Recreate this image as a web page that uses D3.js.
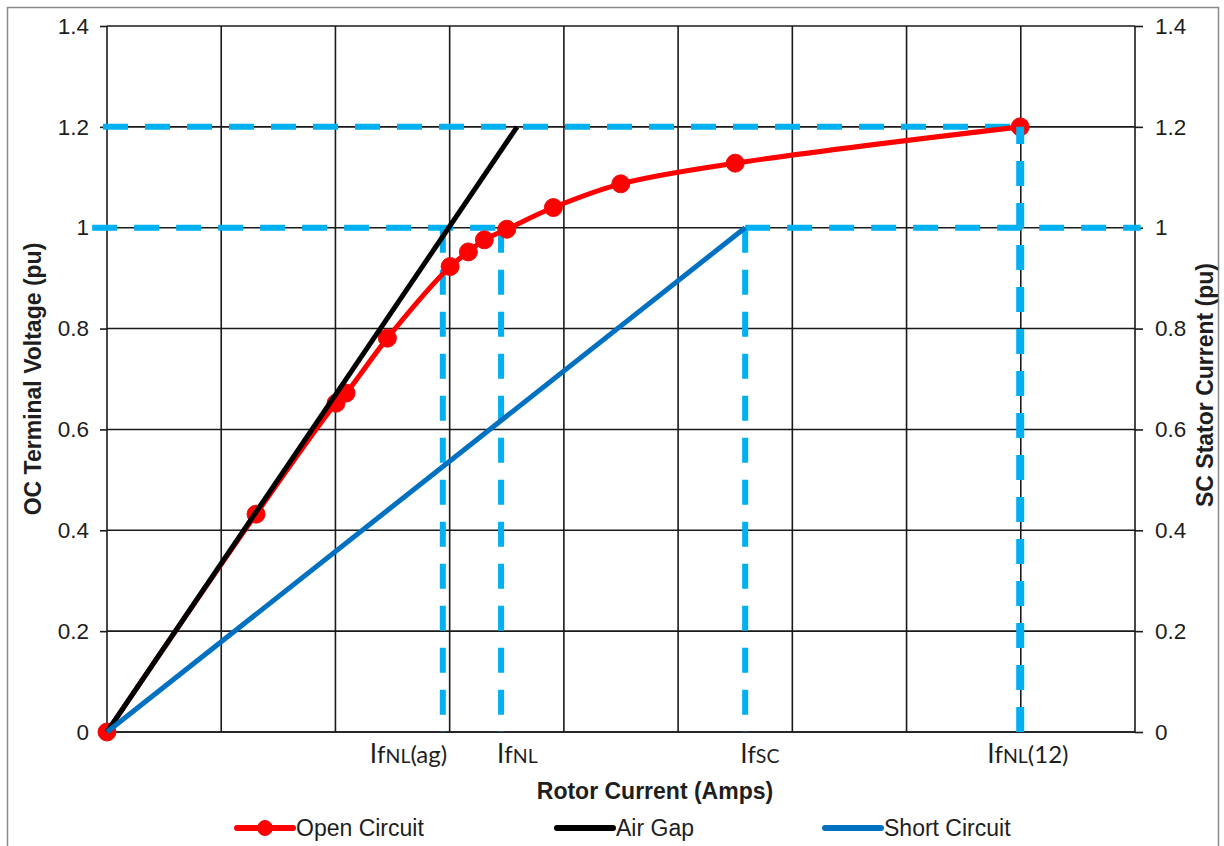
<!DOCTYPE html>
<html><head><meta charset="utf-8">
<script src="https://cdn.jsdelivr.net/npm/d3@7"></script>
<style>
  body { margin: 0; background: #fff; }
  svg { display: block; }
  text { fill: #1e1e1e; }
</style>
</head><body>
<svg id="chart" width="1224" height="846"></svg>
<script>
// Open-circuit characteristic: rotor current (grid units) vs terminal voltage (pu)
const ocCurrent = [0, 1.305, 2.005, 2.093, 2.455, 3.004, 3.164, 3.304, 3.50, 3.908, 4.498, 5.50, 7.995];
const ocVoltage = [0, 0.432, 0.652, 0.672, 0.781, 0.923, 0.952, 0.976, 0.997, 1.040, 1.087, 1.128, 1.2];

// Air-gap line
const agCurrent = [0, 3.59];
const agVoltage = [0, 1.2];

// Short-circuit characteristic: rotor current vs stator current (pu)
const scCurrent = [0, 5.587];
const scStator = [0, 1.0];

// Field-current reference points
const refNames = ["IfNL(ag)", "IfNL", "IfSC", "IfNL(12)"];
const refCurrent = [2.94, 3.45, 5.587, 7.995];
const refLevel = [1.0, 1.0, 1.0, 1.2];

const yTicks = [0, 0.2, 0.4, 0.6, 0.8, 1, 1.2, 1.4];
const xGridLines = [0, 1, 2, 3, 4, 5, 6, 7, 8, 9];

const legendNames = ["Open Circuit", "Air Gap", "Short Circuit"];

const svg = d3.select("#chart");
const plot = { left: 107, right: 1135, top: 26, bottom: 732 };

const x = d3.scaleLinear().domain([0, 9]).range([plot.left, plot.right]);
const y = d3.scaleLinear().domain([0, 1.4]).range([plot.bottom, plot.top]);
const y2 = d3.scaleLinear().domain([0, 1.4]).range([plot.bottom, plot.top]);

const RED = "#ff0000", BLACK = "#000000", BLUE = "#0070c0", CYAN = "#00b0f0";
const FONT = "'Liberation Sans', Arial, sans-serif";

// outer chart frame
svg.append("rect")
  .attr("x", 7.5).attr("y", 7.5).attr("width", 1211).attr("height", 860)
  .attr("fill", "none").attr("stroke", "#8a8a8a").attr("stroke-width", 1.5);

// gridlines
const grid = svg.append("g").attr("stroke", "#1a1a1a").attr("stroke-width", 1.6);
grid.selectAll("line.h").data(yTicks).join("line")
  .attr("x1", plot.left).attr("x2", plot.right)
  .attr("y1", d => y(d)).attr("y2", d => y(d));
grid.selectAll("line.v").data(xGridLines).join("line")
  .attr("x1", d => x(d)).attr("x2", d => x(d))
  .attr("y1", plot.top).attr("y2", plot.bottom);

// left and right axes
const fmt = d => String(+d.toFixed(1));
const leftAxis = svg.append("g").attr("transform", `translate(${plot.left},0)`)
  .call(d3.axisLeft(y).tickValues(yTicks).tickFormat(fmt).tickSize(7).tickPadding(11));
const rightAxis = svg.append("g").attr("transform", `translate(${plot.right},0)`)
  .call(d3.axisRight(y2).tickValues(yTicks).tickFormat(fmt).tickSize(8).tickPadding(12));
[leftAxis, rightAxis].forEach(a => {
  a.select(".domain").remove();
  a.selectAll(".tick line").attr("stroke", "#1a1a1a").attr("stroke-width", 1.6);
  a.selectAll(".tick text").attr("font-family", FONT).attr("font-size", 22.5).attr("fill", "#1e1e1e");
});

// bottom axis line
svg.append("line")
  .attr("x1", plot.left).attr("x2", plot.right)
  .attr("y1", y(0)).attr("y2", y(0))
  .attr("stroke", "#1a1a1a").attr("stroke-width", 1.6);

// dashed reference guides
const guides = svg.append("g").attr("fill", "none").attr("stroke", CYAN)
  .attr("stroke-width", 6).attr("stroke-dasharray", "25,17");
const seg = (g, pts) => g.append("path").attr("d", d3.line().x(p => x(p[0])).y(p => y(p[1]))(pts));
seg(guides, [[-0.035, refLevel[3]], [refCurrent[3], refLevel[3]]]);
seg(guides, [[-0.13, refLevel[1]], [refCurrent[1], refLevel[1]]]);
seg(guides, [[refCurrent[2], refLevel[2]], [9.05, refLevel[2]]]);
for (let i = 0; i < 3; i++) {
  seg(guides, [[refCurrent[i], refLevel[i]], [refCurrent[i], 0]]);
}

// open-circuit curve with markers
const ocData = ocCurrent.map((c, i) => [c, ocVoltage[i]]);
svg.append("path")
  .attr("d", d3.line().x(d => x(d[0])).y(d => y(d[1])).curve(d3.curveCatmullRom.alpha(0.5))(ocData))
  .attr("fill", "none").attr("stroke", RED).attr("stroke-width", 5).attr("stroke-linejoin", "round");
svg.append("g").selectAll("circle").data(ocData).join("circle")
  .attr("cx", d => x(d[0])).attr("cy", d => y(d[1])).attr("r", 9)
  .attr("fill", RED).attr("stroke", "#e81010").attr("stroke-width", 1);

// air-gap line
svg.append("path")
  .attr("d", d3.line().x(d => x(d[0])).y(d => y(d[1]))(agCurrent.map((c, i) => [c, agVoltage[i]])))
  .attr("fill", "none").attr("stroke", BLACK).attr("stroke-width", 5);

// short-circuit line (secondary axis)
svg.append("path")
  .attr("d", d3.line().x(d => x(d[0])).y(d => y2(d[1]))(scCurrent.map((c, i) => [c, scStator[i]])))
  .attr("fill", "none").attr("stroke", BLUE).attr("stroke-width", 5);

// IfNL(12) guide drawn on top
const topGuide = svg.append("g").attr("fill", "none").attr("stroke", CYAN)
  .attr("stroke-width", 8).attr("stroke-dasharray", "25,17");
seg(topGuide, [[refCurrent[3], 0], [refCurrent[3], refLevel[3]]]);

// field-current labels under the axis
const labelDx = [-73, -4, -5, -33];
refNames.forEach((name, i) => {
  const t = svg.append("text")
    .attr("x", x(refCurrent[i]) + labelDx[i]).attr("y", 763)
    .attr("font-family", "Lato, 'Open Sans', sans-serif").attr("fill", "#1e1e1e");
  const sub = name.slice(2).match(/^([A-Z]+)(.*)$/);
  t.append("tspan").attr("font-size", 26).text("I");
  t.append("tspan").attr("font-size", 24).text("f");
  t.append("tspan").attr("font-size", 19.5).text(sub[1]);
  if (sub[2]) t.append("tspan").attr("font-size", 24).text(sub[2]);
});

// axis titles
svg.append("text")
  .attr("x", 655).attr("y", 799).attr("text-anchor", "middle")
  .attr("font-family", FONT).attr("font-weight", "bold").attr("font-size", 23)
  .text("Rotor Current (Amps)");
svg.append("text")
  .attr("transform", `translate(41,${(plot.top + plot.bottom) / 2}) rotate(-90)`)
  .attr("text-anchor", "middle")
  .attr("font-family", FONT).attr("font-weight", "bold").attr("font-size", 23)
  .text("OC Terminal Voltage (pu)");
svg.append("text")
  .attr("transform", `translate(1213,${(plot.top + plot.bottom) / 2 + 6}) rotate(-90)`)
  .attr("text-anchor", "middle")
  .attr("font-family", FONT).attr("font-weight", "bold").attr("font-size", 23)
  .text("SC Stator Current (pu)");

// legend
const legendColors = [RED, BLACK, BLUE];
const legendX = [237, 557, 825];
const legendY = 828;
legendNames.forEach((name, i) => {
  const g = svg.append("g");
  g.append("line")
    .attr("x1", legendX[i]).attr("x2", legendX[i] + 56)
    .attr("y1", legendY).attr("y2", legendY)
    .attr("stroke", legendColors[i]).attr("stroke-width", 6).attr("stroke-linecap", "round");
  if (i === 0) {
    g.append("circle").attr("cx", legendX[i] + 28).attr("cy", legendY).attr("r", 7.5)
      .attr("fill", RED).attr("stroke", "#e81010");
  }
  g.append("text")
    .attr("x", legendX[i] + 59).attr("y", legendY + 8)
    .attr("font-family", FONT).attr("font-size", 23)
    .text(name);
});
</script>
</body></html>
